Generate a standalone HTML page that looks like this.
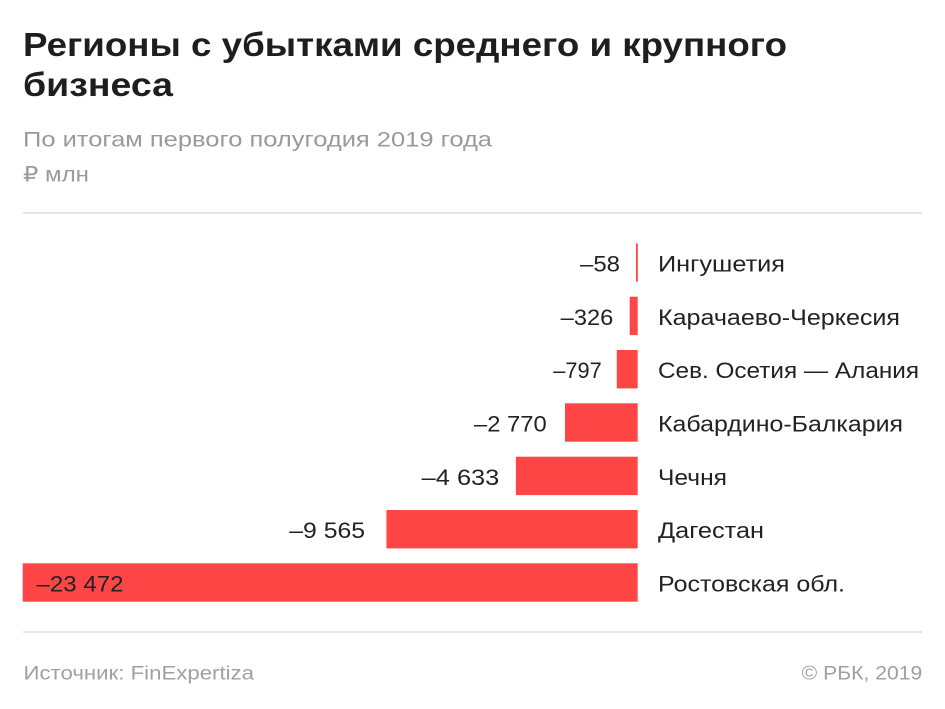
<!DOCTYPE html>
<html>
<head>
<meta charset="utf-8">
<style>
html,body{margin:0;padding:0;background:#fff;}
svg{display:block;}
text{font-family:"Liberation Sans","DejaVu Sans",sans-serif;}
</style>
</head>
<body>
<svg width="945" height="709" viewBox="0 0 945 709" xmlns="http://www.w3.org/2000/svg">
<rect x="0" y="0" width="945" height="709" fill="#ffffff"/>
<!-- Title -->
<text x="23" y="56" font-size="33" font-weight="bold" fill="#1e1e1e" textLength="764" lengthAdjust="spacingAndGlyphs">Регионы с убытками среднего и крупного</text>
<text x="23" y="96" font-size="33" font-weight="bold" fill="#1e1e1e" textLength="150" lengthAdjust="spacingAndGlyphs">бизнеса</text>
<!-- Subtitle -->
<text x="23" y="146.5" font-size="21" fill="#9a9a9a" textLength="469" lengthAdjust="spacingAndGlyphs">По итогам первого полугодия 2019 года</text>
<text x="23" y="181.5" font-size="21" fill="#9a9a9a" textLength="66" lengthAdjust="spacingAndGlyphs">₽ млн</text>
<!-- top line -->
<rect x="23" y="212" width="899" height="2" fill="#e6e6e6"/>

<!-- Bars -->
<g fill="#ff4646">
<rect x="636" y="243.3" width="1.8" height="38.4"/>
<rect x="629.7" y="296.7" width="8" height="38.4"/>
<rect x="616.8" y="350" width="20.9" height="38.4"/>
<rect x="565" y="403.3" width="72.7" height="38.4"/>
<rect x="515.9" y="456.7" width="121.8" height="38.4"/>
<rect x="386.4" y="510" width="251.3" height="38.4"/>
<rect x="22.7" y="563.3" width="615" height="38.4"/>
</g>

<!-- Value labels -->
<g font-size="22" fill="#222">
<text x="580" y="271.5" textLength="40" lengthAdjust="spacingAndGlyphs">–58</text>
<text x="560.7" y="324.8" textLength="52.6" lengthAdjust="spacingAndGlyphs">–326</text>
<text x="553.3" y="378.2" textLength="48.4" lengthAdjust="spacingAndGlyphs">–797</text>
<text x="474" y="431.5" textLength="72.7" lengthAdjust="spacingAndGlyphs">–2 770</text>
<text x="421.7" y="484.8" textLength="77.6" lengthAdjust="spacingAndGlyphs">–4 633</text>
<text x="289.3" y="538.2" textLength="75.7" lengthAdjust="spacingAndGlyphs">–9 565</text>
<text x="36.5" y="591.5" textLength="87" lengthAdjust="spacingAndGlyphs">–23 472</text>
</g>

<!-- Category labels -->
<g font-size="22" fill="#222">
<text x="658" y="271.5" textLength="127" lengthAdjust="spacingAndGlyphs">Ингушетия</text>
<text x="658" y="324.8" textLength="242" lengthAdjust="spacingAndGlyphs">Карачаево-Черкесия</text>
<text x="658" y="378.2" textLength="261" lengthAdjust="spacingAndGlyphs">Сев. Осетия — Алания</text>
<text x="658" y="431.5" textLength="245" lengthAdjust="spacingAndGlyphs">Кабардино-Балкария</text>
<text x="658" y="484.8" textLength="69" lengthAdjust="spacingAndGlyphs">Чечня</text>
<text x="658" y="538.2" textLength="106" lengthAdjust="spacingAndGlyphs">Дагестан</text>
<text x="658" y="591.5" textLength="187" lengthAdjust="spacingAndGlyphs">Ростовская обл.</text>
</g>

<!-- bottom line -->
<rect x="23" y="631" width="899" height="2" fill="#e6e6e6"/>

<!-- Footer -->
<text x="23.5" y="679.3" font-size="19.5" fill="#a0a0a0" textLength="230.5" lengthAdjust="spacingAndGlyphs">Источник: FinExpertiza</text>
<text x="801.7" y="679.3" font-size="19.5" fill="#a0a0a0" textLength="120.6" lengthAdjust="spacingAndGlyphs">© РБК, 2019</text>
</svg>
</body>
</html>
